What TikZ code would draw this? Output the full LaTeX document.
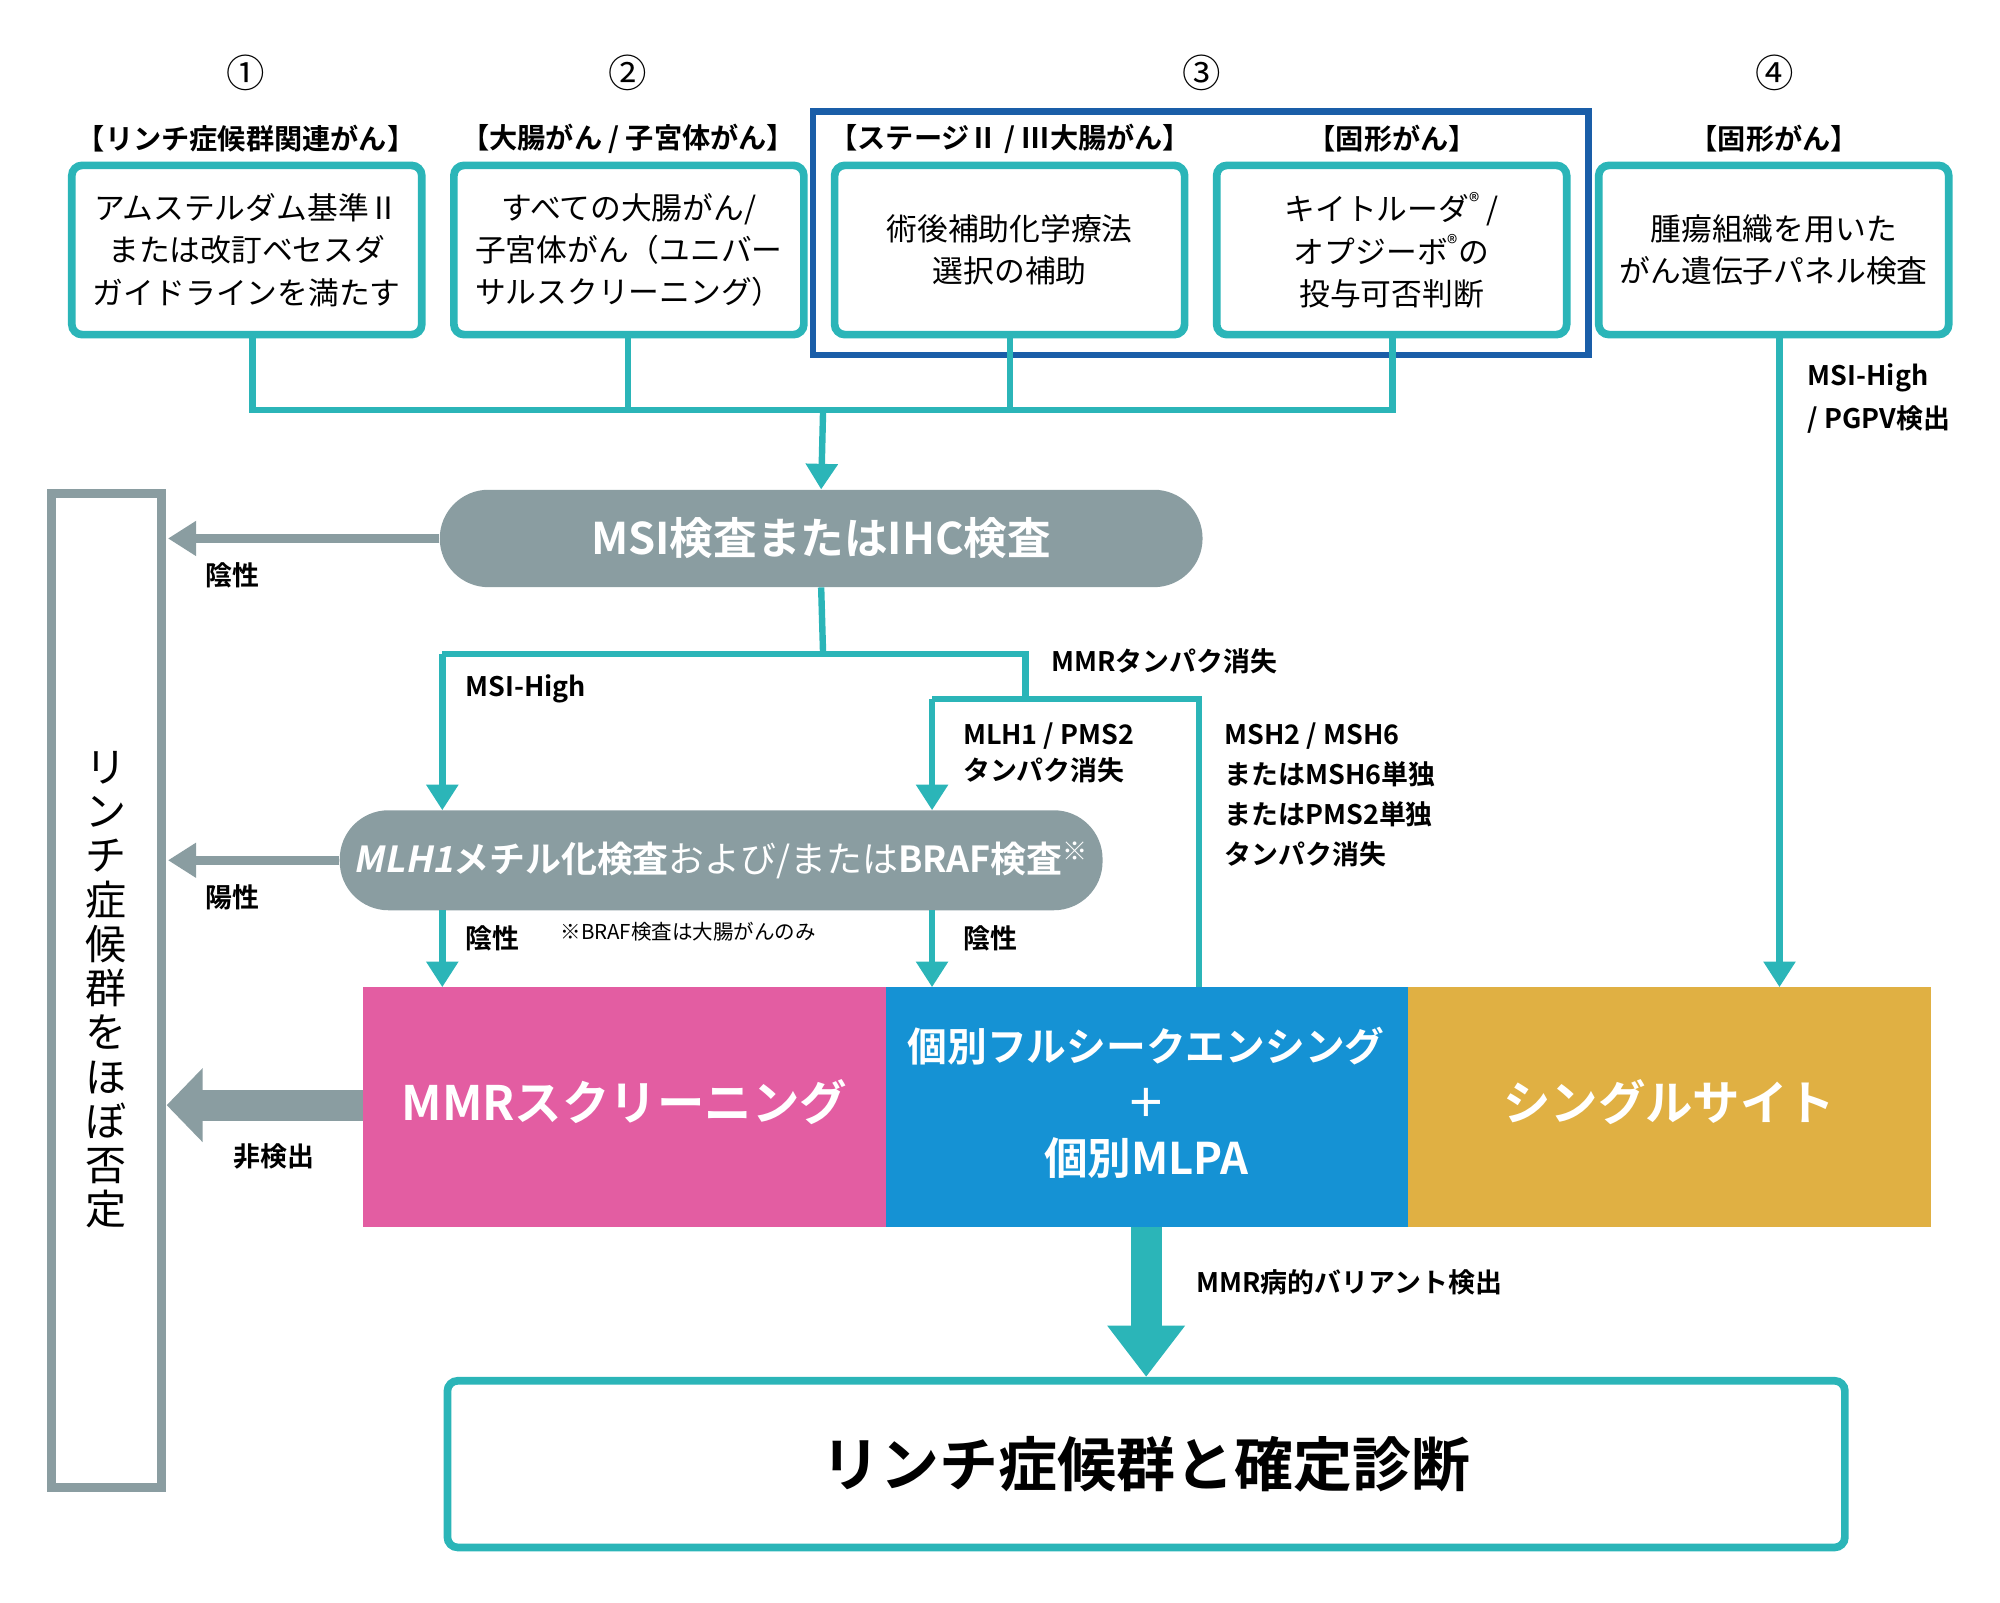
\documentclass[tikz,border=0pt]{standalone}
\usepackage{fontspec}
\setmainfont{Noto Sans CJK JP}
\newfontfamily\jpb{Noto Sans CJK JP Bold}
\newfontfamily\jpbi{Noto Sans CJK JP Bold}[FakeSlant=0.2]
\usetikzlibrary{arrows.meta}
\definecolor{teal1}{HTML}{2BB5B8}
\definecolor{gray1}{HTML}{8A9DA1}
\definecolor{blue1}{HTML}{1A5EA8}
\definecolor{pink1}{HTML}{E35DA2}
\definecolor{cyan1}{HTML}{1592D4}
\definecolor{yel1}{HTML}{E0B043}
\begin{document}
\begin{tikzpicture}[x=1pt,y=-1pt,
 box/.style={draw=teal1,line width=6pt,rounded corners=8pt,fill=white,align=center,font=\fontsize{24}{33}\selectfont,inner sep=0pt},
 lbl/.style={font=\jpb\fontsize{21}{30}\selectfont,align=left,anchor=west,inner sep=0pt},
 hd/.style={font=\jpb\fontsize{22}{26}\selectfont,inner sep=0pt},
 num/.style={font=\fontsize{30}{30}\selectfont,inner sep=0pt},
 tl/.style={teal1,line width=5pt},
 ta/.style={teal1,line width=5pt,-{Triangle[length=20pt,width=24pt]}},
 ga/.style={gray1,line width=7pt,-{Triangle[length=22pt,width=26pt]}},
 pill/.style={fill=gray1,rounded corners=38pt,text=white,inner sep=0pt}]
\useasboundingbox (0,0) rectangle (1560,1250);
% headers
\foreach \x/\t in {192/①,490/②,937/③,1384/④} \node[num] at (\x,57) {\t};
\node[hd] at (192,108) {【リンチ症候群関連がん】};
\node[hd] at (490,108) {【大腸がん / 子宮体がん】};
\node[hd] at (788,108) {【ステージⅡ / Ⅲ大腸がん】};
\node[hd] at (1086,108) {【固形がん】};
\node[hd] at (1384,108) {【固形がん】};
\draw[blue1,line width=5pt] (634,87) rectangle (1239,277);
% boxes
\node[box,minimum width=273pt,minimum height=132pt] (b1) at (192.5,195) {アムステルダム基準Ⅱ\\または改訂ベセスダ\\ガイドラインを満たす};
\node[box,minimum width=273pt,minimum height=132pt] (b2) at (490.5,195) {すべての大腸がん/\\子宮体がん（ユニバー\\サルスクリーニング）};
\node[box,minimum width=273pt,minimum height=132pt] (b3) at (787.5,195) {術後補助化学療法\\選択の補助};
\node[box,minimum width=273pt,minimum height=132pt] (b4) at (1085.5,195) {キイトルーダ\textsuperscript{®} /\\オプジーボ\textsuperscript{®}の\\投与可否判断};
\node[box,minimum width=273pt,minimum height=132pt] (b5) at (1383.5,195) {腫瘍組織を用いた\\がん遺伝子パネル検査};
\coordinate (j) at (642,320);
\draw[tl] (197,262) |- (1086,320) -- (1086,262);
\draw[tl] (490,262) -- (490,320);
\draw[tl] (788,262) -- (788,320);
% pills
\node[pill,minimum width=595pt,minimum height=76pt] (msi) at (640.5,420) {\jpb\fontsize{34}{34}\selectfont MSI検査またはIHC検査};
\draw[ta] (j) -- (msi.north);
\node[pill,minimum width=595pt,minimum height=78pt] (mlh) at (562.5,671) {\fontsize{28}{28}\selectfont{\jpbi MLH1}{\jpb メチル化検査}および/または{\jpb BRAF検査}\textsuperscript{※}};
% left rect
\draw[gray1,line width=7pt,fill=white] (40,385) rectangle (126,1160);
\node[font=\fontsize{32}{34.5}\selectfont,align=center,inner sep=0pt] (lv) at (83,772) {リ\\ン\\チ\\症\\候\\群\\を\\ほ\\ぼ\\否\\定};
\draw[ga] (msi.west) -- (131,420);
\node[lbl] at (160,449) {陰性};
\draw[ga] (mlh.west) -- (131,671);
\node[lbl] at (160,700) {陽性};
% band
\fill[pink1] (283,770) rectangle (691,957);
\fill[cyan1] (691,770) rectangle (1098,957);
\fill[yel1] (1098,770) rectangle (1506,957);
\node[text=white,font=\jpb\fontsize{37}{37}\selectfont,inner sep=0pt] (mmr) at (487,860) {MMRスクリーニング};
\node[text=white,font=\jpb\fontsize{31}{44}\selectfont,align=center,inner sep=0pt] (ind) at (894,860) {個別フルシークエンシング\\＋\\{\fontsize{34}{44}\selectfont 個別MLPA}};
\node[text=white,font=\jpb\fontsize{37}{37}\selectfont,inner sep=0pt] (ss) at (1302,860) {シングルサイト};
\coordinate (bl) at (283,862);
\draw[gray1,line width=24pt,-{Triangle[length=28pt,width=56pt]}] (bl) -- (130,862);
\node[lbl] at (182,902) {非検出};
% msi branching
\draw[tl] (msi.south) -- (642,510);
\draw[tl] (345,510) -- (800,510) -- (800,545);
\draw[ta] (345,510) -- (345,632);
\node[lbl] at (363,537) {MSI-High};
\node[lbl] at (820,516) {MMRタンパク消失};
\draw[tl] (727,545) -- (935,545) -- (935,770);
\draw[ta] (727,545) -- (727,632);
\node[lbl,font=\jpb\fontsize{21}{28}\selectfont] at (751,587) {MLH1 / PMS2\\タンパク消失};
\node[lbl,font=\jpb\fontsize{21}{31}\selectfont] at (955,620) {MSH2 / MSH6\\またはMSH6単独\\またはPMS2単独\\タンパク消失};
\draw[ta] (345,710) -- (345,770);
\draw[ta] (727,710) -- (727,770);
\node[lbl] at (363,732) {陰性};
\node[lbl] at (751,732) {陰性};
\node[anchor=west,inner sep=0pt,font=\fontsize{16}{16}\selectfont] at (437,727) {※BRAF検査は大腸がんのみ};
% right
\draw[ta] (1388,262) -- (1388,770);
\node[lbl,font=\jpb\fontsize{21}{34}\selectfont] at (1410,311) {MSI-High\\/ PGPV検出};
% final
\node[box,minimum width=1090pt,minimum height=130pt,font=\jpb\fontsize{46}{46}\selectfont] (fin) at (894,1142) {リンチ症候群と確定診断};
\draw[teal1,line width=24pt,-{Triangle[length=40pt,width=58pt]}] (894,957) -- (fin.north);
\node[lbl] at (933,1000) {MMR病的バリアント検出};
\end{tikzpicture}
\end{document}
